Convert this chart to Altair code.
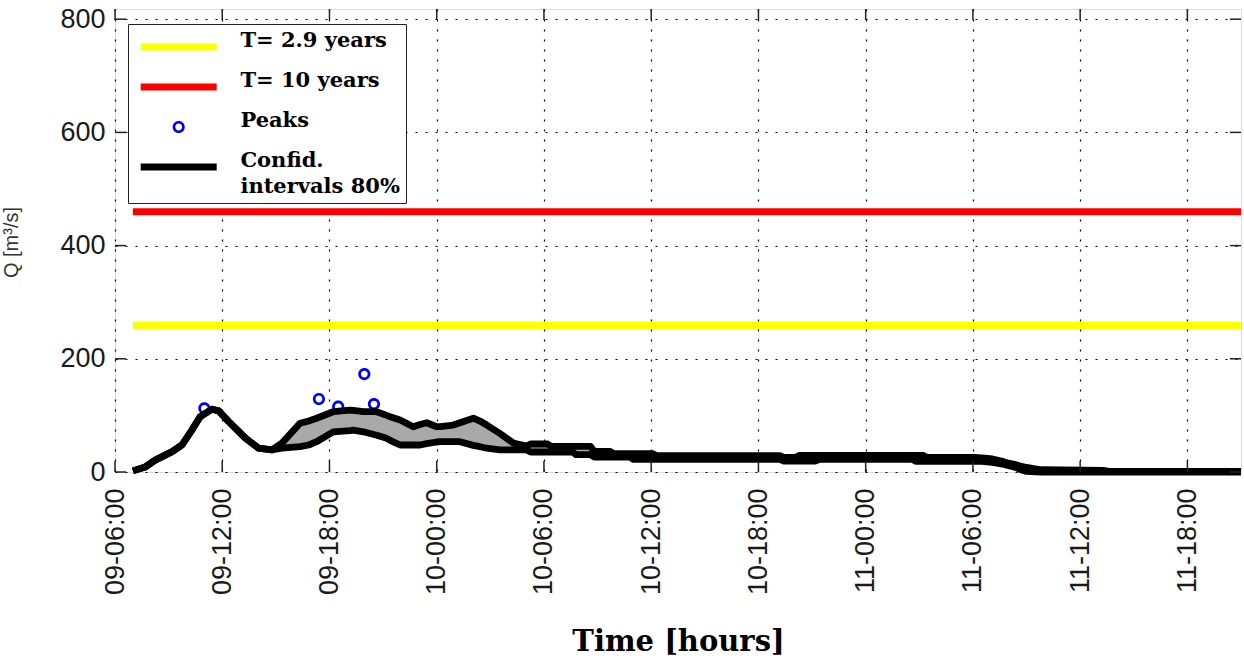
import json
import altair as alt
import pandas as pd

# ---------------- data ----------------
series_names = ["T= 2.9 years", "T= 10 years", "Peaks", "Confid. intervals 80%"]
series_colors = ["#ffff00", "#ff0000", "#0000ff", "#000000"]
confid_label_lines = ["Confid.", "intervals 80%"]

x_tick_hours = [0, 6, 12, 18, 24, 30, 36, 42, 48, 54, 60]
x_tick_labels = ["09-06:00", "09-12:00", "09-18:00", "10-00:00", "10-06:00",
                 "10-12:00", "10-18:00", "11-00:00", "11-06:00", "11-12:00", "11-18:00"]
y_ticks = [0, 200, 400, 600, 800]

threshold_names = ["T= 2.9 years", "T= 10 years"]
threshold_values = [259, 460]
threshold_start = [1.0, 1.0]
threshold_end = [63.0, 63.0]

peak_hours = [5.0, 11.41, 12.49, 13.95, 14.49]
peak_values = [112.5, 129, 115.4, 173, 120]

# hours after 09-06:00
ci_hours = [1.0, 1.7, 2.25, 3.2, 3.75, 4.3, 4.77, 5.43, 5.8, 6.36, 7.29, 8.04, 8.78,
            9.34, 10.35, 10.84, 11.28, 12.21, 13.15, 13.33, 13.89, 14.27, 14.64, 15.2,
            15.39, 15.95, 16.69, 17.07, 17.44, 18.0, 18.19, 18.93, 19.3, 20.05, 20.42,
            20.8, 21.54, 22.29, 23.03, 23.25, 24.2, 24.4, 25.6, 25.8, 26.6, 26.8, 27.7,
            27.9, 28.8, 29.0, 30.1, 30.3, 37.2, 37.4, 38.1, 38.3, 39.2, 39.4, 44.6, 44.8,
            45.2, 45.4, 48.0, 48.5, 49.1, 49.65, 49.9, 50.4, 50.6, 51.0, 51.8, 55.3, 55.6,
            63.0]
ci_upper = [2, 9, 21, 36, 48, 74, 98, 111, 108, 89, 60, 42, 39,
            51, 86, 90, 95, 106.5, 109.5, 109, 106.5, 106.5, 106.5, 100,
            97.7, 92, 80, 84, 87, 80, 80, 83, 87, 95, 90,
            83, 68, 51, 46, 49.5, 49.5, 45.4, 45.4, 45.4, 45.4, 36.6, 36.6,
            32.3, 32.3, 32.3, 32.3, 28.8, 28.8, 26, 26, 29.5, 29.5, 29.5, 29.5, 29.5,
            29.5, 26, 26, 25, 23, 19, 16, 13, 11, 8, 4, 3, 1,
            1]
ci_lower = [2, 9, 21, 36, 48, 74, 98, 111, 108, 89, 60, 42, 39,
            42, 44.7, 47.7, 53.5, 71, 73, 74, 71, 68, 65, 59.5,
            56, 47.7, 47.7, 47.7, 50, 53, 53.5, 53.5, 53.5, 47, 44.7,
            42, 39, 39, 39, 35.3, 35.3, 35.3, 35.3, 30.6, 30.6, 26.5, 26.5,
            26.5, 26.5, 22.4, 22.4, 22.4, 22.4, 19.4, 19.4, 19.4, 19.4, 22.4, 22.4, 19,
            19, 19, 19, 19, 17, 14, 12, 8, 5, 1, 0, 0, 0,
            0]

# ---------------- symbol shapes (unit box -1..1) ----------------
BAR_PATH = "M-1,-0.09H1V0.09H-1Z"
RING_PATH = ("M0.16,0A0.16,0.16,0,1,1,-0.16,0A0.16,0.16,0,1,1,0.16,0Z"
             "M0.09,0A0.09,0.09,0,1,0,-0.09,0A0.09,0.09,0,1,0,0.09,0Z")
series_shapes = [BAR_PATH, BAR_PATH, RING_PATH, BAR_PATH]
SYMBOL_SIZE = 5776

# ---------------- tables ----------------
band_df = pd.DataFrame({"h": ci_hours, "upper": ci_upper, "lower": ci_lower})
lines_df = pd.concat([
    pd.DataFrame({"h": ci_hours, "v": ci_upper, "bound": "upper"}),
    pd.DataFrame({"h": ci_hours, "v": ci_lower, "bound": "lower"}),
])
lines_df["series"] = series_names[3]
peaks_df = pd.DataFrame({"h": peak_hours, "v": peak_values, "series": series_names[2]})
thr_df = pd.DataFrame({"h": threshold_start, "h2": threshold_end,
                       "v": threshold_values, "series": threshold_names})
xt_df = pd.DataFrame({"h": x_tick_hours})
yt_df = pd.DataFrame({"v": y_ticks})

X_MAX = 63.0
Y_MAX = 818.0

label_js = "[" + ",".join(json.dumps(s) for s in x_tick_labels) + "]"
x_axis = alt.Axis(values=x_tick_hours, labelExpr=f"{label_js}[round(datum.value/6)]",
                  labelAngle=-90, labelPadding=16, labelFont="Liberation Sans",
                  labelFontSize=27, labelColor="#1a1a1a", ticks=False, domain=False,
                  grid=True, gridDash=[2, 8], gridColor="#000000", gridWidth=1.2,
                  title="Time [hours]", titleFont="DejaVu Serif", titleFontSize=29,
                  titleFontWeight="bold", titleColor="#000000", titleY=178,
                  titleBaseline="alphabetic")
y_axis = alt.Axis(values=y_ticks, labelPadding=10, labelFont="Liberation Sans",
                  labelFontSize=27, labelColor="#1a1a1a", ticks=False, domain=False,
                  grid=True, gridDash=[2, 8], gridColor="#000000", gridWidth=1.2,
                  title="Q [m³/s]", titleFont="Liberation Sans", titleFontSize=20,
                  titleFontWeight="normal", titleColor="#333333", titleAngle=270,
                  titleX=-98, titleY=233, titleAlign="center", titleBaseline="alphabetic")

xs = alt.Scale(domain=[0, X_MAX], nice=False, zero=False)
ys = alt.Scale(domain=[0, Y_MAX], nice=False, zero=False)

# trailing figure spaces on the first label widen the legend box like the original's
pad_tail = "\u2007" * 3
legend_expr = (f"datum.label == '{series_names[3]}' ? "
               f"['{confid_label_lines[0]}', '{confid_label_lines[1]}']"
               f" : (datum.label == '{series_names[0]}' ? datum.label + '{pad_tail}' : datum.label)")
leg = alt.Legend(title=None, orient="none", legendX=13, legendY=15, direction="vertical",
                 columns=1, clipHeight=34, rowPadding=6, padding=6,
                 symbolSize=SYMBOL_SIZE, symbolStrokeWidth=0, symbolOffset=6.7,
                 symbolOpacity=1,
                 labelOffset=23.7, labelBaseline="alphabetic",
                 labelFont="DejaVu Serif", labelFontWeight="bold", labelFontSize=21,
                 labelColor="#000000", labelLimit=600, labelExpr=legend_expr,
                 fillColor="#ffffff", strokeColor="#222222")

color_scale = alt.Scale(domain=series_names, range=series_colors)
shape_scale = alt.Scale(domain=series_names, range=series_shapes)

band = alt.Chart(band_df).mark_area(color="#a9a9a9", opacity=1).encode(
    x=alt.X("h:Q", scale=xs, axis=x_axis),
    y=alt.Y("upper:Q", scale=ys, axis=y_axis),
    y2="lower:Q",
)
points = alt.Chart(peaks_df).mark_point(filled=True, opacity=1, size=SYMBOL_SIZE, strokeWidth=0).encode(
    x=alt.X("h:Q", scale=xs),
    y=alt.Y("v:Q", scale=ys),
    color=alt.Color("series:N", scale=color_scale, legend=leg),
    shape=alt.Shape("series:N", scale=shape_scale, legend=leg),
)
lines = alt.Chart(lines_df).mark_line(strokeWidth=6.8, strokeJoin="round").encode(
    x=alt.X("h:Q", scale=xs),
    y=alt.Y("v:Q", scale=ys),
    detail="bound:N",
    color=alt.Color("series:N", scale=color_scale, legend=leg),
)
rules = alt.Chart(thr_df).mark_rule(strokeWidth=7).encode(
    x=alt.X("h:Q", scale=xs),
    x2="h2:Q",
    y=alt.Y("v:Q", scale=ys),
    color=alt.Color("series:N", scale=color_scale, legend=leg),
)

TX = 0.62   # tick length in hours
TY = 19.4   # tick length in Q units
tick_style = dict(color="#222222", strokeWidth=1.5)
ticks_bottom = alt.Chart(xt_df).mark_rule(**tick_style).encode(
    x=alt.X("h:Q", scale=xs), y=alt.datum(0), y2=alt.datum(TY))
ticks_top = alt.Chart(xt_df).mark_rule(**tick_style).encode(
    x=alt.X("h:Q", scale=xs), y=alt.datum(Y_MAX), y2=alt.datum(Y_MAX - TY))
ticks_left = alt.Chart(yt_df).mark_rule(**tick_style).encode(
    y=alt.Y("v:Q", scale=ys), x=alt.datum(0), x2=alt.datum(TX))
ticks_right = alt.Chart(yt_df).mark_rule(**tick_style).encode(
    y=alt.Y("v:Q", scale=ys), x=alt.datum(X_MAX), x2=alt.datum(X_MAX - TX))

chart = alt.layer(band, points, lines, rules, ticks_bottom, ticks_top, ticks_left, ticks_right).properties(
    width=1126, height=463,
    padding={"left": 115, "top": 9, "right": 3, "bottom": 190},
    autosize=alt.AutoSizeParams(type="none"),
    background="#ffffff",
).configure_view(stroke="#222222", strokeWidth=1.5).configure(
    style={"guide-label": {"lineHeight": 26}}
)

chart.save("out.html", embed_options={"renderer": "svg", "actions": False})
